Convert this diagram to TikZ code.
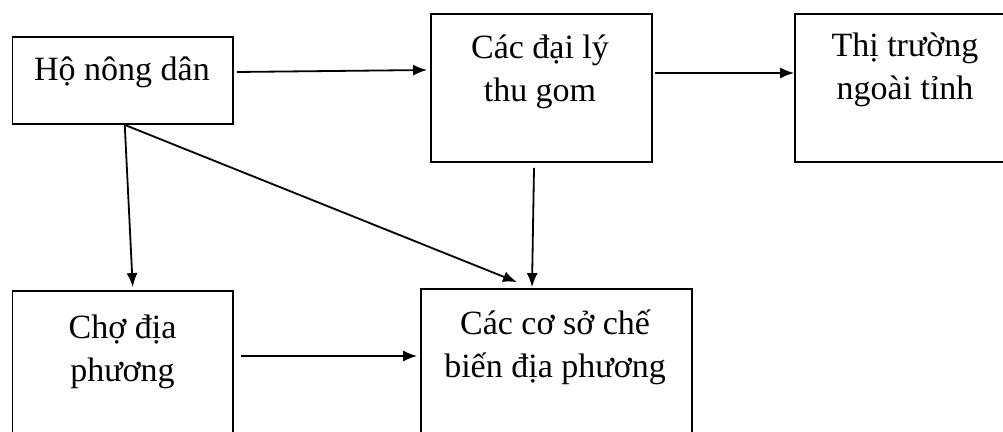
\documentclass[tikz,border=0pt]{standalone}
\usepackage{fontspec}
\setmainfont{Liberation Serif}
\usepackage{tikz}
\usetikzlibrary{arrows.meta}

\begin{document}
\begin{tikzpicture}[x=0.5pt,y=-0.5pt,line width=0.9pt,
  >={Latex[length=7pt,width=5.5pt]},
  box/.style={draw,rectangle,inner sep=0pt},
  txt/.style={align=center,anchor=base,font=\fontsize{17}{21.5}\selectfont}]

  \useasboundingbox (0,0) rectangle (1003,432);

  \node[box,minimum width=110.25pt,minimum height=43.5pt] at (122.75,80.5) (ho){};
  \node[box,minimum width=110.5pt,minimum height=74pt] at (541.5,88) (daily){};
  \node[box,minimum width=110pt,minimum height=74pt] at (905,88) (ngoai){};
  \node[box,minimum width=110.25pt,minimum height=79.5pt] at (122.75,370.5) (cho){};
  \node[box,minimum width=135.5pt,minimum height=80.5pt] at (556.5,369.5) (coso){};

  % texts sit in the upper part of each box (base = last line)
  \node[txt] at (122,81) (hot){Hộ nông dân};
  \node[txt] at (540,102) (dailyt){Các đại lý\\thu gom};
  \node[txt] at (905,100) (ngoait){Thị trường\\ngoài tỉnh};
  \node[txt] at (122.5,382) (chot){Chợ địa\\phương};
  \node[txt] at (555,378) (cosot){Các cơ sở chế\\biến địa phương};

  \draw [->] ([xshift=1.5pt,yshift=4.25pt]ho.east) -- ([xshift=-1.5pt,yshift=9pt]daily.west);
  \draw [->] ([xshift=1pt,yshift=7.5pt]daily.east) -- ([yshift=7.5pt]ngoai.west);
  \draw [->] ([xshift=1pt]ho.south) -- ([xshift=5pt,yshift=1.5pt]cho.north);
  \draw [->] ([xshift=1pt]ho.south) -- ([xshift=-19.75pt,yshift=3pt]coso.north);
  \draw [->] ([xshift=-3.75pt,yshift=-2.5pt]daily.south) -- ([xshift=-12.25pt,yshift=0.5pt]coso.north);
  \draw [->] ([xshift=3.5pt,yshift=7.25pt]cho.east) -- ([xshift=-1.5pt,yshift=6.75pt]coso.west);

\end{tikzpicture}
\end{document}
